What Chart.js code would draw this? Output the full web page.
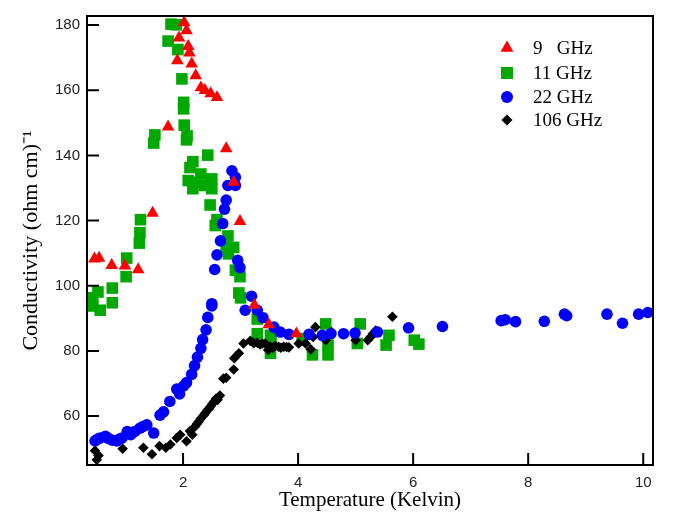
<!DOCTYPE html>
<html>
<head>
<meta charset="utf-8">
<script src="https://cdn.jsdelivr.net/npm/chart.js@4"></script>
<style>
  body { margin: 0; background: #fff; }
</style>
</head>
<body>
<canvas id="condChart" width="673" height="518"></canvas>
<script>
// values, temperature (K) and conductivity (ohm cm)^-1
let labels = ['9   GHz', '11 GHz', '22 GHz', '106 GHz'];
let xTicks = [2, 4, 6, 8, 10];
let yTicks = [60, 80, 100, 120, 140, 160, 180];

let t9 = [0.46,0.54,0.76,0.99,1.22,1.47,1.74,1.90,1.93,2.02,2.06,2.09,2.11,2.15,2.22,2.31,2.38,2.48,2.59,2.75,2.88,2.99,3.24,3.49,3.97];
let s9 = [108.3,108.5,106.3,106.1,105.0,122.3,148.8,169.1,176.1,180.8,178.3,173.5,171.5,168.1,164.5,160.8,160.0,159.0,157.8,142.1,131.8,119.8,94.1,88.1,85.3];

let t11 = [0.43,0.43,0.52,0.56,0.77,0.77,1.01,1.02,1.24,1.25,1.26,1.49,1.51,1.74,1.79,1.88,1.91,1.98,2.01,2.01,2.02,2.06,2.07,2.09,2.12,2.17,2.17,2.21,2.31,2.37,2.43,2.47,2.50,2.50,2.56,2.59,2.75,2.78,2.79,2.88,2.91,2.97,2.99,3.00,3.29,3.29,3.52,3.53,3.52,4.07,4.25,4.48,4.52,4.52,5.03,5.08,5.53,5.58,6.02,6.10];
let s11 = [96.3,93.8,98.1,92.5,99.3,94.8,102.8,108.5,113.1,116.3,120.3,143.8,146.3,175.1,180.3,180.1,172.5,163.5,156.3,154.3,149.3,144.8,146.0,132.3,136.3,138.1,129.8,131.8,134.3,130.8,140.1,124.8,132.8,129.8,118.5,120.3,111.8,115.3,109.8,111.8,104.8,97.8,102.8,96.3,89.8,85.3,84.8,83.1,79.3,83.8,78.8,88.3,81.8,78.8,82.3,88.3,81.8,84.8,83.3,82.1];

let t22 = [0.47,0.52,0.56,0.65,0.70,0.77,0.85,0.90,0.94,1.03,1.09,1.16,1.25,1.30,1.37,1.49,1.60,1.66,1.77,1.89,1.94,2.01,2.06,2.15,2.20,2.25,2.31,2.34,2.40,2.43,2.50,2.50,2.55,2.59,2.65,2.69,2.72,2.75,2.78,2.85,2.91,2.91,2.95,2.99,3.08,3.19,3.29,3.39,3.58,3.69,3.84,4.19,4.42,4.57,4.79,4.99,5.38,5.92,6.51,7.53,7.60,7.78,8.28,8.63,8.67,9.37,9.64,9.92,10.08];
let s22 = [52.4,53.0,53.3,53.8,53.2,52.6,52.4,53.0,53.3,55.3,54.3,55.3,56.3,56.8,57.3,54.8,60.3,61.3,64.5,68.3,66.8,69.3,70.3,72.8,75.5,78.1,80.8,83.5,86.5,90.3,93.8,94.5,105.0,109.5,113.8,119.1,123.5,126.3,130.8,135.3,133.3,130.8,107.8,105.6,92.5,96.8,92.5,90.2,87.3,85.8,85.1,85.1,84.8,85.3,85.3,85.5,85.8,87.1,87.5,89.3,89.6,89.0,89.1,91.3,90.8,91.3,88.5,91.3,91.8];

let t106 = [0.47,0.53,0.50,0.95,1.31,1.46,1.59,1.70,1.78,1.89,1.95,2.06,2.12,2.16,2.21,2.24,2.27,2.31,2.36,2.39,2.42,2.45,2.48,2.51,2.54,2.57,2.60,2.64,2.70,2.75,2.88,2.89,2.97,3.05,3.17,3.23,3.29,3.34,3.38,3.43,3.48,3.52,3.56,3.60,3.66,3.70,3.75,3.80,3.84,4.01,4.13,4.22,4.26,4.30,4.48,4.58,5.00,5.21,5.26,5.30,5.35,5.64];
let s106 = [49.4,47.9,46.6,50.0,50.3,48.3,50.8,50.3,51.3,53.3,54.3,52.3,55.4,54.3,56.8,57.6,58.3,59.3,60.3,61.0,61.8,62.3,63.0,63.8,64.5,65.3,65.0,66.3,71.5,71.8,74.3,77.8,79.3,82.3,83.1,82.4,82.5,82.0,82.3,82.3,80.3,81.3,81.0,81.5,81.3,81.0,81.3,81.2,81.1,82.3,82.3,80.5,84.3,87.3,83.3,85.8,83.3,83.3,84.3,85.3,86.3,90.5];

function pts(xs, ys){
  return xs.map((x, i) => ({x: x, y: ys[i]}));
}

// frame, inward ticks and the legend inside the plot
const framePlugin = {
  id: 'frame',
  afterDraw(chart){
    const ctx = chart.ctx;
    const a = chart.chartArea;
    const xs = chart.scales.x, ys = chart.scales.y;
    ctx.save();
    ctx.strokeStyle = '#000';
    ctx.lineWidth = 2;
    ctx.strokeRect(a.left, a.top, a.right - a.left, a.bottom - a.top);
    ctx.beginPath();
    xTicks.forEach(v => {
      const px = xs.getPixelForValue(v);
      ctx.moveTo(px, a.bottom);
      ctx.lineTo(px, a.bottom - 12);
    });
    yTicks.forEach(v => {
      const py = ys.getPixelForValue(v);
      ctx.moveTo(a.left, py);
      ctx.lineTo(a.left + 12, py);
    });
    ctx.stroke();

    // legend
    const rowY = [48, 73, 97, 120];
    chart.data.datasets.forEach((ds, i) => {
      const cx = 507, cy = rowY[i];
      ctx.fillStyle = ds.backgroundColor;
      ctx.beginPath();
      if (ds.pointStyle === 'triangle'){
        const r = 7.5;
        ctx.moveTo(cx, cy - r);
        ctx.lineTo(cx + r * 0.866, cy + r * 0.5);
        ctx.lineTo(cx - r * 0.866, cy + r * 0.5);
        ctx.closePath();
      } else if (ds.pointStyle === 'rect'){
        ctx.rect(cx - 6, cy - 6, 12, 12);
      } else if (ds.pointStyle === 'circle'){
        ctx.arc(cx, cy, 6, 0, Math.PI * 2);
      } else {
        ctx.moveTo(cx, cy - 5.5);
        ctx.lineTo(cx + 5.5, cy);
        ctx.lineTo(cx, cy + 5.5);
        ctx.lineTo(cx - 5.5, cy);
        ctx.closePath();
      }
      ctx.fill();
      ctx.fillStyle = '#000';
      ctx.font = '19px "Liberation Serif", "Times New Roman", serif';
      ctx.textBaseline = 'middle';
      ctx.textAlign = 'left';
      ctx.fillText(ds.label, 533, cy + 1);
    });
    ctx.restore();
  }
};

let condChart = new Chart(document.getElementById('condChart').getContext('2d'), {
  type: 'scatter',
  data: {
    datasets: [
      {label: labels[0], data: pts(t9, s9), pointStyle: 'triangle', pointRadius: 7.3, backgroundColor: '#ff0000', borderColor: '#ff0000', pointBorderWidth: 0, order: 0},
      {label: labels[1], data: pts(t11, s11), pointStyle: 'rect', pointRadius: 8.2, backgroundColor: '#00a800', borderColor: '#00a800', pointBorderWidth: 0, order: 3},
      {label: labels[2], data: pts(t22, s22), pointStyle: 'circle', pointRadius: 5.8, backgroundColor: '#0000ff', borderColor: '#0000ff', pointBorderWidth: 0, order: 1},
      {label: labels[3], data: pts(t106, s106), pointStyle: 'rectRot', pointRadius: 5.3, backgroundColor: '#000000', borderColor: '#000000', pointBorderWidth: 0, order: 2}
    ]
  },
  options: {
    responsive: false,
    animation: false,
    layout: {padding: {top: 5, right: 20, left: 0, bottom: 0}},
    plugins: {legend: {display: false}, tooltip: {enabled: false}},
    scales: {
      x: {
        type: 'linear',
        min: 0.33,
        max: 10.17,
        afterBuildTicks: s => { s.ticks = xTicks.map(v => ({value: v})); },
        afterFit: s => { s.height = 53; },
        grid: {display: false, drawTicks: false},
        border: {display: false},
        ticks: {color: '#222', padding: 9, font: {family: '"Liberation Sans", Arial, sans-serif', size: 15}},
        title: {
          display: true,
          text: 'Temperature (Kelvin)',
          color: '#000',
          padding: {top: 0, bottom: 5},
          font: {family: '"Liberation Serif", "Times New Roman", serif', size: 21}
        }
      },
      y: {
        type: 'linear',
        min: 45,
        max: 182.8,
        afterBuildTicks: s => { s.ticks = yTicks.map(v => ({value: v})); },
        afterFit: s => { s.width = 87; },
        grid: {display: false, drawTicks: false},
        border: {display: false},
        ticks: {color: '#222', padding: 7, font: {family: '"Liberation Sans", Arial, sans-serif', size: 15}},
        title: {
          display: true,
          text: 'Conductivity (ohm cm)\u207B\u00B9',
          color: '#000',
          padding: {top: 18, bottom: 0},
          font: {family: '"Liberation Serif", "Times New Roman", serif', size: 22}
        }
      }
    }
  },
  plugins: [framePlugin]
});
</script>
</body>
</html>
